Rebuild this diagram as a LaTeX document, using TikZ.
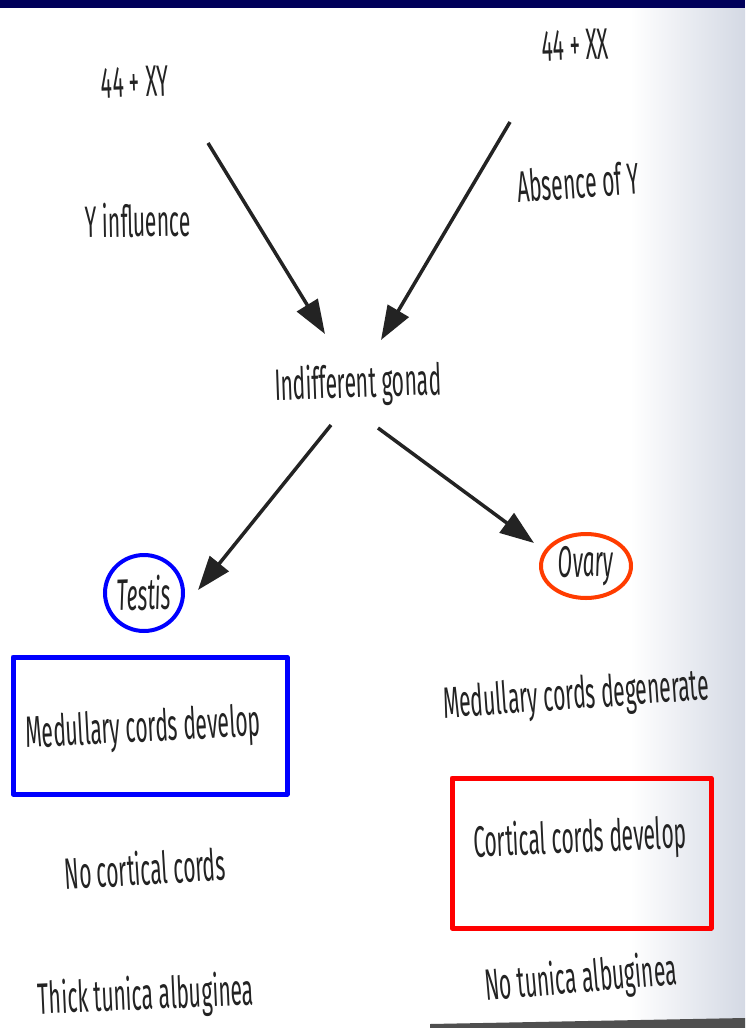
\documentclass[tikz,border=0pt]{standalone}
\usepackage{fontspec}
\setmainfont{Liberation Sans}
\newfontfamily\cond[FakeStretch=0.48]{Fira Sans}
\usetikzlibrary{arrows.meta}
\definecolor{navy}{RGB}{0,0,90}
\definecolor{edgegray}{RGB}{212,217,228}
\definecolor{inkgray}{RGB}{35,35,35}
\definecolor{ovaryred}{RGB}{255,60,0}
\begin{document}
\begin{tikzpicture}[x=1pt,y=-1pt,
  lbl/.style={font=\cond\fontsize{44}{48}\selectfont, text=inkgray, inner sep=0pt},
  ital/.style={font=\cond\itshape\fontsize{44}{48}\selectfont, text=inkgray, inner sep=0pt},
  arr/.style={draw=inkgray, line width=3.5pt, -{Triangle[length=34pt,width=24pt]}},
  box/.style={line width=5pt, line join=round}]
\useasboundingbox (0,0) rectangle (745,1028);
\fill[white] (0,0) rectangle (745,1028);
\shade[left color=white, right color=edgegray] (630,8) rectangle (745,1028);
\fill[navy] (0,0) rectangle (745,8);
\fill[inkgray!80] (430,1024) -- (745,1018) -- (745,1028) -- (430,1028) -- cycle;
% texts
\node[lbl, rotate=2] (xy) at (135,82) {44 + XY};
\node[lbl, rotate=2] (xx) at (575,45) {44 + XX};
\node[lbl, rotate=1] (yinf) at (138,220) {Y influence};
\node[lbl, rotate=4] (absy) at (578,182) {Absence of Y};
\node[lbl, rotate=2] (gonad) at (358,385) {Indifferent gonad};
\node[ital, rotate=2] (testis) at (144,593) {Testis};
\node[ital, rotate=2] (ovary) at (586,566) {Ovary};
\node[lbl, rotate=3] (medl) at (143,730) {Medullary cords develop};
\node[lbl, rotate=3.5] (nocort) at (145,868) {No cortical cords};
\node[lbl, rotate=2.5] (thick) at (146,997) {Thick tunica albuginea};
\node[lbl, rotate=4] (medr) at (576,697) {Medullary cords degenerate};
\node[lbl, rotate=2.5] (cort) at (580,840) {Cortical cords develop};
\node[lbl, rotate=5] (notun) at (581,980) {No tunica albuginea};
% circles and boxes
\draw[blue, line width=4pt] (testis.center) ellipse [x radius=39, y radius=38];
\draw[ovaryred, line width=4pt] (ovary.center) ellipse [x radius=45, y radius=32];
\draw[blue, box] (13,657) rectangle (287,794);
\draw[red, box] (452,778) rectangle (711,928);
% arrows
\coordinate (a1s) at (208,143);
\coordinate (a1e) at (325,334);
\coordinate (a2s) at (510,122);
\coordinate (a2e) at (381,340);
\coordinate (a3s) at (331,425);
\coordinate (a3e) at (198,590);
\coordinate (a4s) at (378,428);
\coordinate (a4e) at (534,543);
\draw[arr] (a1s) -- (a1e);
\draw[arr] (a2s) -- (a2e);
\draw[arr] (a3s) -- (a3e);
\draw[arr] (a4s) -- (a4e);
\end{tikzpicture}
\end{document}
